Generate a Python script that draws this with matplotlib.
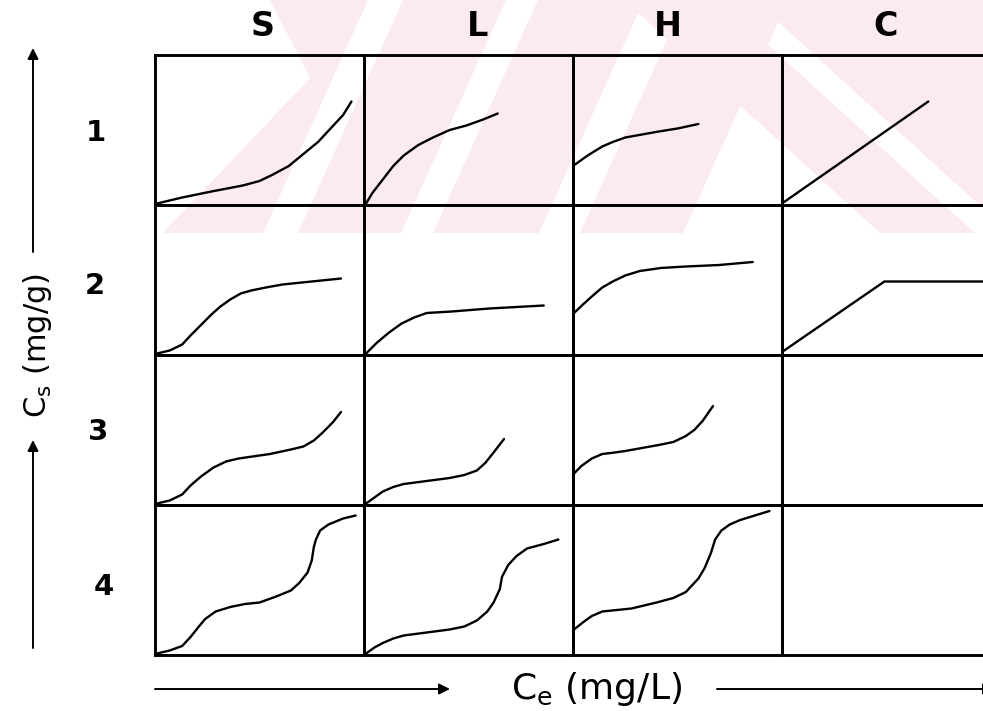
import numpy as np
import matplotlib.pyplot as plt
from matplotlib.patches import Polygon, Rectangle

plt.rcParams['font.family'] = ['DejaVu Sans']
plt.rcParams['mathtext.fontset'] = 'dejavusans'

# isotherm classes (columns) and subgroups (rows)
classes = ['S', 'L', 'H', 'C']
groups = ['1', '2', '3', '4']

# curves, cell-local coordinates (0..1 in each cell)
S1_x = [0.01, 0.13, 0.27, 0.42, 0.50, 0.56, 0.64, 0.71, 0.78, 0.84, 0.90, 0.94]
S1_y = [0.01, 0.05, 0.09, 0.13, 0.16, 0.20, 0.26, 0.34, 0.42, 0.51, 0.60, 0.69]
L1_x = [0.01, 0.04, 0.09, 0.14, 0.19, 0.26, 0.33, 0.41, 0.49, 0.57, 0.64]
L1_y = [0.01, 0.08, 0.17, 0.26, 0.33, 0.40, 0.45, 0.50, 0.53, 0.57, 0.61]
H1_x = [0.01, 0.07, 0.14, 0.19, 0.25, 0.33, 0.41, 0.50, 0.60]
H1_y = [0.27, 0.33, 0.39, 0.42, 0.45, 0.47, 0.49, 0.51, 0.54]
C1_x = [0.01, 0.70]
C1_y = [0.02, 0.69]

S2_x = [0.01, 0.07, 0.13, 0.17, 0.22, 0.27, 0.31, 0.36, 0.41, 0.46, 0.53, 0.61, 0.75, 0.89]
S2_y = [0.01, 0.03, 0.07, 0.13, 0.20, 0.27, 0.32, 0.37, 0.41, 0.43, 0.45, 0.47, 0.49, 0.51]
L2_x = [0.01, 0.06, 0.12, 0.18, 0.24, 0.30, 0.42, 0.60, 0.86]
L2_y = [0.01, 0.08, 0.15, 0.21, 0.25, 0.28, 0.29, 0.31, 0.33]
H2_x = [0.005, 0.05, 0.09, 0.14, 0.19, 0.25, 0.32, 0.42, 0.54, 0.70, 0.86]
H2_y = [0.28, 0.34, 0.39, 0.45, 0.49, 0.53, 0.56, 0.58, 0.59, 0.60, 0.62]
C2_x = [0.0, 0.49, 1.0]
C2_y = [0.02, 0.49, 0.49]

S3_x = [0.01, 0.07, 0.13, 0.17, 0.22, 0.28, 0.34, 0.40, 0.45, 0.55, 0.65, 0.71, 0.76, 0.80, 0.85, 0.89]
S3_y = [0.01, 0.03, 0.07, 0.13, 0.19, 0.25, 0.29, 0.31, 0.32, 0.34, 0.37, 0.39, 0.43, 0.48, 0.55, 0.62]
L3_x = [0.01, 0.05, 0.09, 0.14, 0.19, 0.30, 0.41, 0.48, 0.54, 0.58, 0.62, 0.67]
L3_y = [0.01, 0.05, 0.09, 0.12, 0.14, 0.16, 0.18, 0.20, 0.23, 0.28, 0.35, 0.44]
H3_x = [0.005, 0.04, 0.09, 0.14, 0.20, 0.25, 0.33, 0.41, 0.48, 0.54, 0.58, 0.62, 0.67]
H3_y = [0.21, 0.26, 0.31, 0.34, 0.35, 0.36, 0.38, 0.40, 0.42, 0.46, 0.50, 0.56, 0.66]

S4_x = [0.01, 0.07, 0.13, 0.17, 0.21, 0.24, 0.29, 0.36, 0.43, 0.50, 0.58, 0.65, 0.69,
        0.73, 0.75, 0.76, 0.77, 0.79, 0.83, 0.90, 0.96]
S4_y = [0.01, 0.03, 0.06, 0.12, 0.19, 0.24, 0.29, 0.32, 0.34, 0.35, 0.39, 0.43, 0.48,
        0.55, 0.63, 0.72, 0.77, 0.83, 0.87, 0.91, 0.93]
L4_x = [0.01, 0.05, 0.09, 0.14, 0.19, 0.30, 0.41, 0.48, 0.54, 0.59, 0.62, 0.65, 0.66,
        0.69, 0.73, 0.78, 0.86, 0.93]
L4_y = [0.01, 0.05, 0.08, 0.11, 0.13, 0.15, 0.17, 0.19, 0.23, 0.29, 0.35, 0.44, 0.52,
        0.60, 0.66, 0.71, 0.74, 0.77]
H4_x = [0.005, 0.05, 0.09, 0.14, 0.21, 0.28, 0.40, 0.48, 0.54, 0.60, 0.63, 0.66, 0.68,
        0.71, 0.75, 0.80, 0.87, 0.94]
H4_y = [0.17, 0.22, 0.26, 0.29, 0.30, 0.31, 0.35, 0.38, 0.42, 0.51, 0.58, 0.68, 0.77,
        0.83, 0.87, 0.90, 0.93, 0.96]

curves = {
    (0, 0): (S1_x, S1_y), (0, 1): (L1_x, L1_y), (0, 2): (H1_x, H1_y), (0, 3): (C1_x, C1_y),
    (1, 0): (S2_x, S2_y), (1, 1): (L2_x, L2_y), (1, 2): (H2_x, H2_y), (1, 3): (C2_x, C2_y),
    (2, 0): (S3_x, S3_y), (2, 1): (L3_x, L3_y), (2, 2): (H3_x, H3_y),
    (3, 0): (S4_x, S4_y), (3, 1): (L4_x, L4_y), (3, 2): (H4_x, H4_y),
}

W, H = 983, 711
fig = plt.figure(figsize=(W / 100, H / 100), dpi=100)

# background layer in pixel coordinates (watermark, labels, arrows)
bg = fig.add_axes([0, 0, 1, 1], zorder=0)
bg.set_xlim(0, W)
bg.set_ylim(H, 0)
bg.axis('off')

# faint pink watermark stripes in the upper band
pink = '#fcebee'
clip = Rectangle((160, 0), W, 233, transform=bg.transData)
stripes = [
    [(163, 233), (263, 233), (368, 0), (270, 0), (310, 78)],
    [(298, 233), (401, 233), (506, 0), (403, 0)],
    [(433, 233), (539, 233), (644, 0), (538, 0)],
    [(580, 233), (683, 233), (788, 0), (685, 0)],
    [(880, 233), (975, 233), (719, 0), (624, 0)],
    [(1010, 233), (1300, 233), (1044, 0), (754, 0)],
]
for pts in stripes:
    p = Polygon(pts, closed=True, color=pink, lw=0)
    bg.add_patch(p)
    p.set_clip_path(clip)

# grid of small panels
left, cw = 155, 209
top, ch = 55, 150
gs = fig.add_gridspec(4, 4, left=left / W, right=(left + 4 * cw) / W,
                      top=1 - top / H, bottom=1 - (top + 4 * ch) / H,
                      wspace=0, hspace=0)
for r in range(4):
    for c in range(4):
        ax = fig.add_subplot(gs[r, c], zorder=1)
        ax.set_facecolor('none')
        ax.set_xlim(0, 1)
        ax.set_ylim(0, 1)
        ax.set_xticks([])
        ax.set_yticks([])
        for s in ax.spines.values():
            s.set_linewidth(2.1)
            s.set_color('black')
        if (r, c) in curves:
            xs, ys = curves[(r, c)]
            ax.plot(xs, ys, color='black', lw=1.7, solid_capstyle='round',
                    solid_joinstyle='round')

# column headers and row numbers
for lab, x in zip(classes, [263, 478, 668, 886]):
    bg.text(x, 27, lab, ha='center', va='center', fontsize=24, fontweight='bold')
for lab, x, y in zip(groups, [96, 95, 98, 104], [133, 286, 432, 587]):
    bg.text(x, y, lab, ha='center', va='center', fontsize=21, fontweight='bold')

# axis captions with arrows
bg.text(37, 345, r'C$_\mathregular{s}$ (mg/g)', rotation=90,
        ha='center', va='center', fontsize=22)
bg.text(597, 689, r'C$_\mathregular{e}$ (mg/L)', ha='center', va='center', fontsize=26)

arrow = dict(arrowstyle='-|>', lw=1.4, color='black', mutation_scale=16,
             shrinkA=0, shrinkB=0)
bg.annotate('', xy=(33, 48), xytext=(33, 252), arrowprops=arrow)
bg.annotate('', xy=(33, 440), xytext=(33, 648), arrowprops=arrow)
bg.annotate('', xy=(450, 689), xytext=(155, 689), arrowprops=arrow)
bg.annotate('', xy=(994, 689), xytext=(717, 689), arrowprops=arrow,
            annotation_clip=False)

fig.savefig('out.png', dpi=100)
